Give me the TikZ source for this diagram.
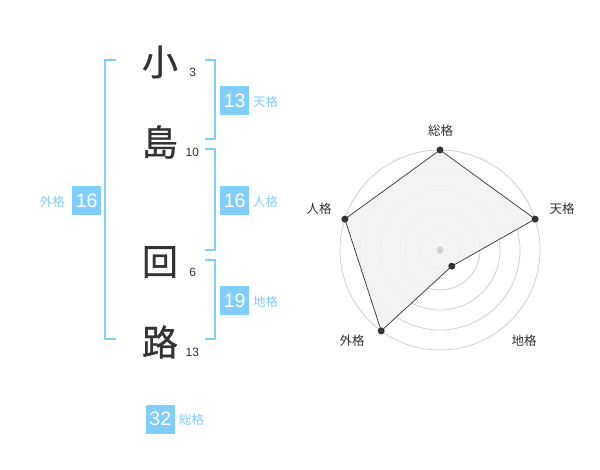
\documentclass[tikz,border=0pt]{standalone}
\usepackage{fontspec}
\setmainfont{Liberation Sans}
\newfontfamily\cjk{Noto Sans CJK JP}
\newfontfamily\cjkbig[FakeBold=0.8]{Noto Sans CJK JP}
\definecolor{bl}{RGB}{130,206,250}
\definecolor{bltxt}{RGB}{135,205,245}
\definecolor{ink}{RGB}{51,51,51}
\definecolor{ringc}{RGB}{208,208,208}
\definecolor{areac}{RGB}{242,242,242}
\begin{document}
\begin{tikzpicture}[x=1pt,y=-1pt,
  kanji/.style={font=\cjkbig\fontsize{36}{36}\selectfont, text=ink, inner sep=0pt},
  strokes/.style={font=\fontsize{12}{12}\selectfont, text=ink, inner sep=0pt},
  valbox/.style={fill=bl, text=white, minimum width=29pt, minimum height=29pt, inner sep=0pt, font=\fontsize{19.5}{19.5}\selectfont},
  kaku/.style={font=\cjk\fontsize{12.5}{12.5}\selectfont, text=bltxt, inner sep=0pt},
  brk/.style={draw=bl, line width=2pt},
  ring/.style={draw=ringc, line width=0.8pt},
  dot/.style={circle, fill=ink, inner sep=0pt, minimum size=7pt},
  rlabel/.style={font=\cjk\fontsize{12.5}{12.5}\selectfont, text=ink, inner sep=0pt}]
\useasboundingbox (0,0) rectangle (600,470);
\fill[white] (0,0) rectangle (600,470);
% kanji
\node[kanji] (k1) at (160,62) {小};
\node[kanji] (k2) at (160,142) {島};
\node[kanji] (k3) at (160,262) {回};
\node[kanji] (k4) at (160,342) {路};
\node[strokes] (s1) at (192.7,72.7) {3};
\node[strokes] (s2) at (192.3,152.7) {10};
\node[strokes] (s3) at (192.7,272.7) {6};
\node[strokes] (s4) at (192.3,352.7) {13};
% brackets
\draw[brk] (116,60) -- (105,60) -- (105,339) -- (116,339);
\draw[brk] (205,60) -- (215,60) -- (215,139) -- (205,139);
\draw[brk] (205,149.5) -- (215,149.5) -- (215,250) -- (205,250);
\draw[brk] (205,260) -- (215,260) -- (215,339) -- (205,339);
% value boxes
\node[valbox] (ten) at (234.7,100.3) {13};
\node[kaku, anchor=west] (tenl) at (253,101.5) {天格};
\node[valbox] (jin) at (234.7,200.3) {16};
\node[kaku, anchor=west] (jinl) at (253,201.5) {人格};
\node[valbox] (chi) at (234.7,300.3) {19};
\node[kaku, anchor=west] (chil) at (253,301.5) {地格};
\node[valbox] (gai) at (86.7,200.3) {16};
\node[kaku, anchor=east] (gail) at (65,201.5) {外格};
\node[valbox] (sou) at (160.3,419) {32};
\node[kaku, anchor=west] (soul) at (179,420) {総格};
% radar (y axis points down, so angles are negated)
\begin{scope}[shift={(440,250)}]
  \foreach \r in {20,40,60,80,100} \draw[ring] (0,0) circle (\r);
  \coordinate (pa) at (-90:100);
  \coordinate (pb) at (-18:100);
  \coordinate (pc) at (54:20);
  \coordinate (pd) at (126:100);
  \coordinate (pe) at (-162:100);
  \fill[areac, opacity=0.85] (pa) -- (pb) -- (pc) -- (pd) -- (pe) -- cycle;
  \draw[ink, line width=0.7pt] (pa) -- (pb) -- (pc) -- (pd) -- (pe) -- cycle;
  \node[circle, fill=ringc, inner sep=0pt, minimum size=7pt] (ctr) at (0,0) {};
  \node[dot] (da) at (pa) {};
  \node[dot] (db) at (pb) {};
  \node[dot] (dc) at (pc) {};
  \node[dot] (dd) at (pd) {};
  \node[dot] (de) at (pe) {};
  \node[rlabel] (la) at (0.7,-119.3) {総格};
  \node[rlabel] (lb) at (122,-41) {天格};
  \node[rlabel] (lc) at (84,91) {地格};
  \node[rlabel] (ld) at (-88,91) {外格};
  \node[rlabel] (le) at (-121,-41) {人格};
\end{scope}
\end{tikzpicture}
\end{document}
